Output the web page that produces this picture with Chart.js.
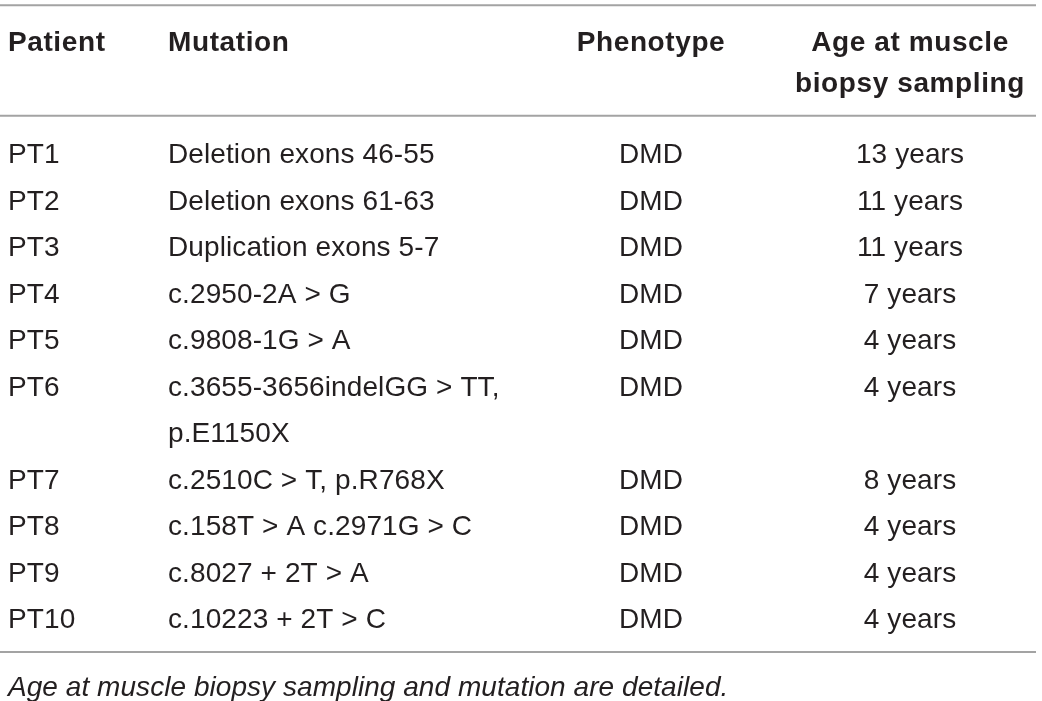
<!DOCTYPE html>
<html>
<head>
<meta charset="utf-8">
<script src="https://cdn.jsdelivr.net/npm/chart.js@4"></script>
<style>
  html, body { margin: 0; padding: 0; background: #ffffff; }
  canvas { display: block; }
</style>
</head>
<body>
<canvas id="tableChart" width="1042" height="701"></canvas>
<script>
// Table content
const headers = ["Patient", "Mutation", "Phenotype", ["Age at muscle", "biopsy sampling"]];
const patients = ["PT1", "PT2", "PT3", "PT4", "PT5", "PT6", "PT7", "PT8", "PT9", "PT10"];
const mutations = [
    "Deletion exons 46-55",
    "Deletion exons 61-63",
    "Duplication exons 5-7",
    "c.2950-2A > G",
    "c.9808-1G > A",
    ["c.3655-3656indelGG > TT,", "p.E1150X"],
    "c.2510C > T, p.R768X",
    "c.158T > A c.2971G > C",
    "c.8027 + 2T > A",
    "c.10223 + 2T > C",
];
const phenotypes = ["DMD", "DMD", "DMD", "DMD", "DMD", "DMD", "DMD", "DMD", "DMD", "DMD"];
const ages = ["13 years", "11 years", "11 years", "7 years", "4 years", "4 years", "8 years", "4 years", "4 years", "4 years"];
const caption = "Age at muscle biopsy sampling and mutation are detailed.";

// Layout (x in canvas units, y in text-line units)
const colX = [8, 168, 651, 910];
const colAlign = ["left", "left", "center", "center"];
const headerLines = [-2.41, -1.53];
const ruleLines = [-3.18, -0.80, 10.73];
const captionLine = 11.46;
const lineStep = 46.5;

const textColor = "#231f20";
const ruleColor = "#a3a3a3";
const fontFamily = "'Liberation Sans', Arial, Helvetica, sans-serif";
const fontStyles = {
    bold: { font: "bold 28px", spacing: "0.6px" },
    normal: { font: "28px", spacing: "0.1px" },
    italic: { font: "italic 28px", spacing: "0.05px" },
};

// Build cells
const cells = [];
headers.forEach((h, c) => {
    const lines = Array.isArray(h) ? h : [h];
    lines.forEach((t, i) => {
        cells.push({ x: colX[c], y: headerLines[i], text: t, align: colAlign[c], style: "bold" });
    });
});

let line = 0;
patients.forEach((p, r) => {
    const row = [p, mutations[r], phenotypes[r], ages[r]];
    row.forEach((v, c) => {
        const lines = Array.isArray(v) ? v : [v];
        lines.forEach((t, i) => {
            cells.push({ x: colX[c], y: line + i, text: t, align: colAlign[c], style: "normal" });
        });
    });
    line += Array.isArray(mutations[r]) ? mutations[r].length : 1;
});

cells.push({ x: colX[0], y: captionLine, text: caption, align: "left", style: "italic" });

// Rules as line datasets
const ruleDatasets = ruleLines.map((y) => ({
    type: "line",
    data: [{ x: 0, y }, { x: 1036, y }],
    borderColor: ruleColor,
    borderWidth: 2,
    pointRadius: 0,
    fill: false,
}));

// Text drawing plugin
const cellText = {
    id: "cellText",
    afterDatasetsDraw(chart) {
        const { ctx } = chart;
        const meta = chart.getDatasetMeta(chart.data.datasets.length - 1);
        ctx.save();
        ctx.fillStyle = textColor;
        ctx.textBaseline = "middle";
        meta.data.forEach((pt, i) => {
            const cell = cells[i];
            const st = fontStyles[cell.style];
            ctx.font = `${st.font} ${fontFamily}`;
            ctx.letterSpacing = st.spacing;
            ctx.textAlign = cell.align;
            ctx.fillText(cell.text, pt.x, pt.y + 2.5);
        });
        ctx.restore();
    },
};

const canvasH = 701;
const yMin = -153 / lineStep;
const yMax = yMin + canvasH / lineStep;

new Chart(document.getElementById("tableChart"), {
    type: "scatter",
    data: {
        datasets: [
            ...ruleDatasets,
            {
                type: "scatter",
                data: cells.map((c) => ({ x: c.x, y: c.y })),
                pointRadius: 0,
                pointHoverRadius: 0,
            },
        ],
    },
    options: {
        responsive: false,
        animation: false,
        events: [],
        layout: { padding: 0 },
        scales: {
            x: { type: "linear", min: 0, max: 1042, display: false },
            y: { type: "linear", min: yMin, max: yMax, reverse: true, display: false },
        },
        plugins: {
            legend: { display: false },
            tooltip: { enabled: false },
        },
    },
    plugins: [cellText],
});
</script>
</body>
</html>
